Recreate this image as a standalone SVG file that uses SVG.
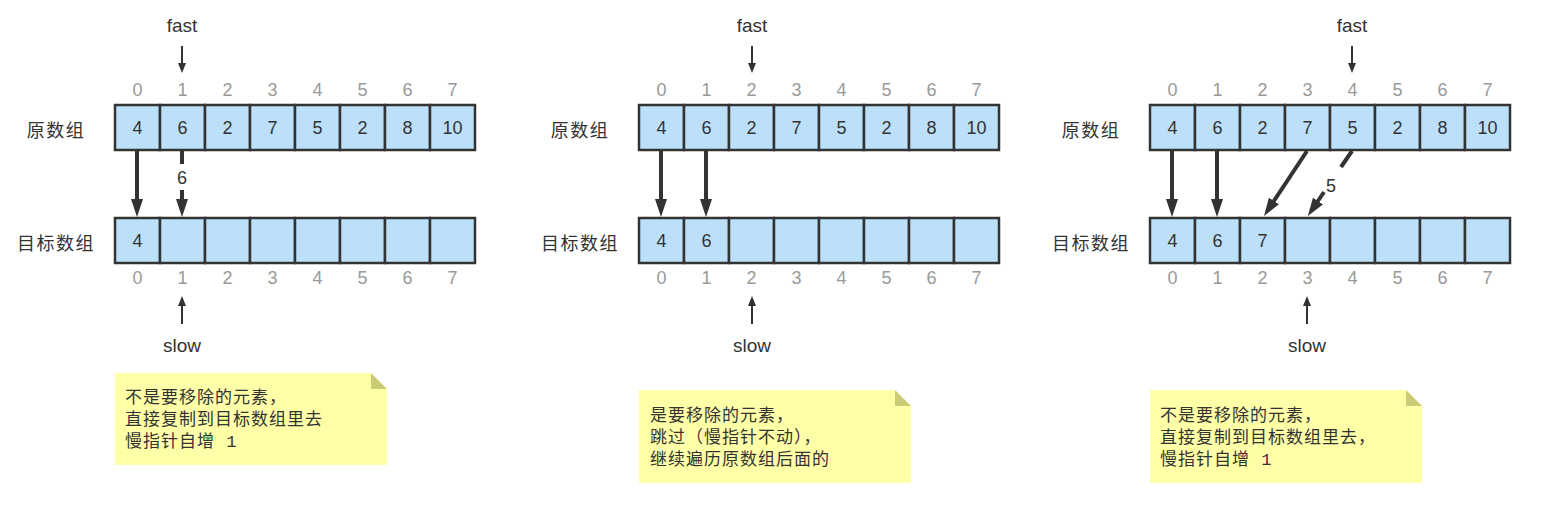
<svg xmlns="http://www.w3.org/2000/svg" width="1547" height="507" viewBox="0 0 1547 507">
<style>
text{font-family:"Liberation Sans","Noto Sans CJK SC",sans-serif;fill:#333}
.idx{font-size:18px;fill:#999;text-anchor:middle}
.val{font-size:18px;text-anchor:middle}
.lbl{font-size:18px;letter-spacing:1.5px;text-anchor:middle}
.ptr{font-size:19px;text-anchor:middle}
.note{font-family:"Liberation Mono","Noto Sans CJK SC",monospace;font-size:17px;letter-spacing:1px}
.cell{fill:#bde0fa;stroke:#333;stroke-width:2.5}
.thin{stroke:#333;stroke-width:2;fill:none}
.thick{stroke:#333;stroke-width:4;fill:none}
.paper{fill:#ffffa8}
.fold{fill:#cccc77}
</style>
<defs>
<marker id="ah" viewBox="0 0 18 12" refX="12" refY="6" markerWidth="4.5" markerHeight="3" orient="auto" markerUnits="strokeWidth"><path d="M0,0L18,6L0,12z" fill="#333"/></marker>
<marker id="as" viewBox="0 0 10 8" refX="7" refY="4" markerWidth="5" markerHeight="4" orient="auto" markerUnits="strokeWidth"><path d="M0,0L10,4L0,8z" fill="#333"/></marker>
<g id="row">
<rect class="cell" x="0" y="0" width="45" height="45"/><rect class="cell" x="45" y="0" width="45" height="45"/><rect class="cell" x="90" y="0" width="45" height="45"/><rect class="cell" x="135" y="0" width="45" height="45"/><rect class="cell" x="180" y="0" width="45" height="45"/><rect class="cell" x="225" y="0" width="45" height="45"/><rect class="cell" x="270" y="0" width="45" height="45"/><rect class="cell" x="315" y="0" width="45" height="45"/>
</g>
<g id="idx">
<text class="idx" x="22.5" y="0">0</text><text class="idx" x="67.5" y="0">1</text><text class="idx" x="112.5" y="0">2</text><text class="idx" x="157.5" y="0">3</text><text class="idx" x="202.5" y="0">4</text><text class="idx" x="247.5" y="0">5</text><text class="idx" x="292.5" y="0">6</text><text class="idx" x="337.5" y="0">7</text>
</g>
<g id="srcvals">
<text class="val" x="22.5" y="0">4</text><text class="val" x="67.5" y="0">6</text><text class="val" x="112.5" y="0">2</text><text class="val" x="157.5" y="0">7</text><text class="val" x="202.5" y="0">5</text><text class="val" x="247.5" y="0">2</text><text class="val" x="292.5" y="0">8</text><text class="val" x="337.5" y="0">10</text>
</g>
</defs>

<!-- Panel 1 -->
<g id="p1-src">
<text class="lbl" x="56" y="137">原数组</text>
<use href="#idx" x="115" y="96"/>
<use href="#row" x="115" y="105"/>
<use href="#srcvals" x="115" y="134"/>
</g>
<g id="p1-dst">
<text class="lbl" x="56" y="250">目标数组</text>
<use href="#row" x="115" y="218"/>
<text class="val" x="137.5" y="247">4</text>
<use href="#idx" x="115" y="284"/>
</g>
<g id="p1-fast"><text class="ptr" x="182" y="32">fast</text></g>
<g id="p1-slow"><text class="ptr" x="182" y="352">slow</text></g>
<g id="p1-note">
<path class="paper" d="M115,373H371L387,389V465H115Z"/>
<path class="fold" d="M371,373L387,389H371Z"/>
<text class="note" x="125" y="403">不是要移除的元素，</text>
<text class="note" x="125" y="425">直接复制到目标数组里去</text>
<text class="note" x="125" y="447">慢指针自增 1</text>
</g>

<!-- Panel 2 -->
<g id="p2-src">
<text class="lbl" x="580" y="137">原数组</text>
<use href="#idx" x="639" y="96"/>
<use href="#row" x="639" y="105"/>
<use href="#srcvals" x="639" y="134"/>
</g>
<g id="p2-dst">
<text class="lbl" x="580" y="250">目标数组</text>
<use href="#row" x="639" y="218"/>
<text class="val" x="661.5" y="247">4</text>
<text class="val" x="706.5" y="247">6</text>
<use href="#idx" x="639" y="284"/>
</g>
<g id="p2-fast"><text class="ptr" x="752" y="32">fast</text></g>
<g id="p2-slow"><text class="ptr" x="752" y="352">slow</text></g>
<g id="p2-note">
<path class="paper" d="M639,390H895L911,406V483H639Z"/>
<path class="fold" d="M895,390L911,406H895Z"/>
<text class="note" x="650" y="421">是要移除的元素，</text>
<text class="note" x="650" y="443">跳过（慢指针不动），</text>
<text class="note" x="650" y="465">继续遍历原数组后面的</text>
</g>

<!-- Panel 3 -->
<g id="p3-src">
<text class="lbl" x="1091" y="137">原数组</text>
<use href="#idx" x="1150" y="96"/>
<use href="#row" x="1150" y="105"/>
<use href="#srcvals" x="1150" y="134"/>
</g>
<g id="p3-dst">
<text class="lbl" x="1091" y="250">目标数组</text>
<use href="#row" x="1150" y="218"/>
<text class="val" x="1172.5" y="247">4</text>
<text class="val" x="1217.5" y="247">6</text>
<text class="val" x="1262.5" y="247">7</text>
<use href="#idx" x="1150" y="284"/>
</g>
<g id="p3-fast"><text class="ptr" x="1352" y="32">fast</text></g>
<g id="p3-slow"><text class="ptr" x="1307" y="352">slow</text></g>
<g id="p3-note">
<path class="paper" d="M1150,390H1406L1422,406V483H1150Z"/>
<path class="fold" d="M1406,390L1422,406H1406Z"/>
<text class="note" x="1160" y="421">不是要移除的元素，</text>
<text class="note" x="1160" y="443">直接复制到目标数组里去，</text>
<text class="note" x="1160" y="465">慢指针自增 1</text>
</g>

<g id="connectors">
<line class="thin" x1="182" y1="46" x2="182" y2="70" marker-end="url(#as)"/>
<line class="thin" x1="182" y1="324" x2="182" y2="299" marker-end="url(#as)"/>
<line class="thin" x1="752" y1="46" x2="752" y2="70" marker-end="url(#as)"/>
<line class="thin" x1="752" y1="324" x2="752" y2="299" marker-end="url(#as)"/>
<line class="thin" x1="1352" y1="46" x2="1352" y2="70" marker-end="url(#as)"/>
<line class="thin" x1="1307" y1="324" x2="1307" y2="299" marker-end="url(#as)"/>

<line class="thick" x1="137" y1="151" x2="137" y2="211" marker-end="url(#ah)"/>
<line class="thick" x1="182" y1="151" x2="182" y2="164"/>
<text class="val" x="182" y="184">6</text>
<line class="thick" x1="182" y1="190" x2="182" y2="211" marker-end="url(#ah)"/>

<line class="thick" x1="661" y1="151" x2="661" y2="211" marker-end="url(#ah)"/>
<line class="thick" x1="706" y1="151" x2="706" y2="211" marker-end="url(#ah)"/>

<line class="thick" x1="1172" y1="151" x2="1172" y2="211" marker-end="url(#ah)"/>
<line class="thick" x1="1217" y1="151" x2="1217" y2="211" marker-end="url(#ah)"/>
<line class="thick" x1="1307" y1="151" x2="1267.3" y2="211" marker-end="url(#ah)"/>
<line class="thick" x1="1352" y1="151" x2="1341" y2="167"/>
<text class="val" x="1331" y="192">5</text>
<line class="thick" x1="1324" y1="192" x2="1311.2" y2="211" marker-end="url(#ah)"/>
</g>
</svg>
